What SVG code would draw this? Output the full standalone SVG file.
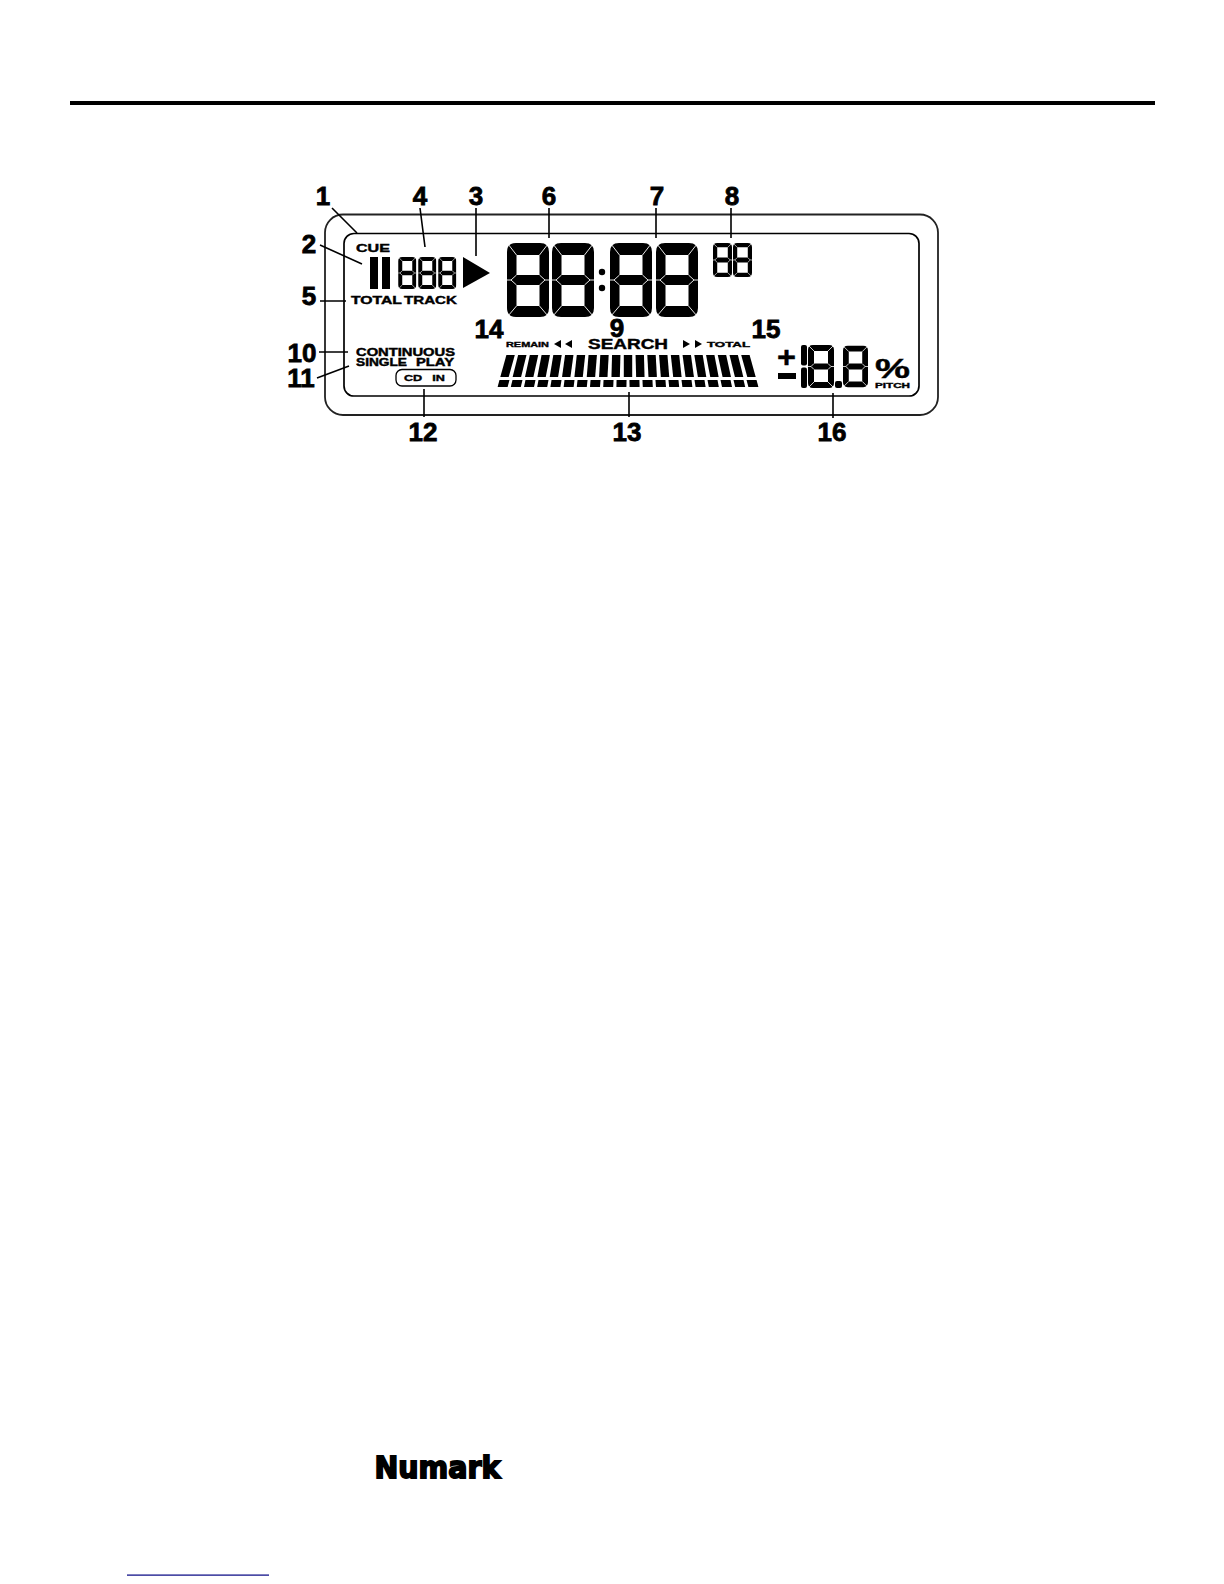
<svg xmlns="http://www.w3.org/2000/svg" width="1224" height="1584" viewBox="0 0 1224 1584">
<style>
.n{font:bold 26px "Liberation Sans",Arial,sans-serif;fill:#000;stroke:#000;stroke-width:.8;text-anchor:middle}
.l{font-family:"Liberation Sans",Arial,sans-serif;font-weight:bold;fill:#000;stroke:#000;stroke-width:.4}
.c{stroke:#000;stroke-width:1.6;fill:none}
</style>
<defs>
<symbol id="big" viewBox="0 0 42 74">
<path fill="#000" fill-rule="evenodd" d="M9 0H33Q42 0 42 9V65Q42 74 33 74H9Q0 74 0 65V9Q0 0 9 0ZM9.500 12V32H32.500V12ZM9.500 42V63H32.500V42Z"/>
<path stroke="#fff" stroke-width=".9" fill="none" d="M1 1L9.500 12M41 1L32.500 12M1 73L9.500 63M41 73L32.500 63M0 37L4 37L9.500 32M4 37L9.500 42M42 37L38 37L32.500 32M38 37L32.500 42"/>
</symbol>
<symbol id="small" viewBox="0 0 18 32">
<path fill="#000" fill-rule="evenodd" d="M4 0H14Q18 0 18 4V28Q18 32 14 32H4Q0 32 0 28V4Q0 0 4 0ZM4 4V13.700H14V4ZM4 18.300V28H14V18.300Z"/>
<path stroke="#fff" stroke-width=".6" fill="none" d="M.8 .8L4 4M17.200 .8L14 4M.8 31.200L4 28M17.200 31.200L14 28M0 16H1.700L4 13.700M1.700 16L4 18.300M18 16H16.300L14 13.700M16.300 16L14 18.300"/>
</symbol>
<symbol id="mid" viewBox="0 0 26 43">
<path fill="#000" fill-rule="evenodd" d="M5 0H21Q26 0 26 5V38Q26 43 21 43H5Q0 43 0 38V5Q0 0 5 0ZM6 6V18.500H20V6ZM6 24.500V37H20V24.500Z"/>
<path stroke="#fff" stroke-width=".8" fill="none" d="M.5 .5L6 6M25.500 .5L20 6M.5 42.500L6 37M25.500 42.500L20 37M0 21.500H3L6 18.500M3 21.500L6 24.500M26 21.500H23L20 18.500M23 21.500L20 24.500"/>
</symbol>
<rect id="bar" x="-4.200" y="-22" width="8.400" height="22" fill="#000"/>
<rect id="blk" x="-5" y="-7" width="10" height="7" fill="#000"/>
<polygon id="tl" points="0,4 7,0 7,8" fill="#000"/>
<polygon id="tr" points="0,0 7,4 0,8" fill="#000"/>
</defs>

<rect id="top-rule" x="70" y="101" width="1085" height="4" fill="#000"/>

<g id="lcd-frame" fill="none">
<rect x="325" y="214.500" width="613" height="200.500" rx="18" stroke="#222" stroke-width="1.800"/>
<rect x="344" y="233.500" width="575" height="162.500" rx="10" stroke="#000" stroke-width="1.700"/>
</g>

<g id="connectors">
<path class="c" d="M332 208L357 233M420 208L425 247M476 208V256M549 208V238M656 208V238M731 208V238M320 245L362 264M320 301H346M319 352H348M317 378L349 366M424 389V417M629 392V417M833 393V418"/>
</g>

<g id="cue"><text class="l" x="356" y="252" font-size="11" textLength="34" lengthAdjust="spacingAndGlyphs">CUE</text></g>
<g id="pause"><rect x="370" y="257" width="8" height="32"/><rect x="382" y="257" width="8" height="32"/></g>
<g id="track-number">
<use href="#small" x="398" y="257" width="18.500" height="32"/>
<use href="#small" x="418" y="257" width="18.500" height="32"/>
<use href="#small" x="438" y="257" width="18.500" height="32"/>
</g>
<g id="play"><polygon points="463,257 490,273 463,288" fill="#000"/></g>
<g id="total-track">
<text class="l" x="351" y="304" font-size="11" textLength="51" lengthAdjust="spacingAndGlyphs">TOTAL</text>
<text class="l" x="404" y="304" font-size="11" textLength="53" lengthAdjust="spacingAndGlyphs">TRACK</text>
</g>
<g id="time-display">
<use href="#big" x="507" y="243" width="42" height="74"/>
<use href="#big" x="552" y="243" width="42" height="74"/>
<circle cx="602" cy="272" r="3.200"/><circle cx="602" cy="288" r="3.200"/>
<use href="#big" x="610" y="243" width="42" height="74"/>
<use href="#big" x="656" y="243" width="42" height="74"/>
</g>
<g id="frames">
<use href="#small" x="713" y="243" width="19" height="34"/>
<use href="#small" x="733" y="243" width="19" height="34"/>
</g>
<g id="remain">
<text class="l" x="506" y="347" font-size="8" textLength="43" lengthAdjust="spacingAndGlyphs">REMAIN</text>
<use href="#tl" x="554" y="340"/><use href="#tl" x="565" y="340"/>
</g>
<g id="search"><text class="l" x="588" y="349" font-size="14" stroke-width=".6" textLength="80" lengthAdjust="spacingAndGlyphs">SEARCH</text></g>
<g id="total">
<use href="#tr" x="683" y="340"/><use href="#tr" x="695" y="340"/>
<text class="l" x="707" y="347" font-size="8" textLength="43" lengthAdjust="spacingAndGlyphs">TOTAL</text>
</g>
<g id="play-mode">
<text class="l" x="356" y="356" font-size="10" textLength="99" lengthAdjust="spacingAndGlyphs">CONTINUOUS</text>
<text class="l" x="356" y="366" font-size="10" textLength="51" lengthAdjust="spacingAndGlyphs">SINGLE</text>
<text class="l" x="416" y="366" font-size="10" textLength="38" lengthAdjust="spacingAndGlyphs">PLAY</text>
</g>
<g id="cd-in">
<rect x="396" y="369.500" width="60" height="16.500" rx="6" fill="none" stroke="#000" stroke-width="1.300"/>
<text class="l" x="404" y="381" font-size="9.500" word-spacing="5" textLength="41" lengthAdjust="spacingAndGlyphs">CD IN</text>
</g>
<g id="level-bars">
<use href="#bar" transform="translate(504.500,377) skewX(-15.500)"/>
<use href="#bar" transform="translate(516.850,377) skewX(-13.950)"/>
<use href="#bar" transform="translate(529.200,377) skewX(-12.400)"/>
<use href="#bar" transform="translate(541.550,377) skewX(-10.850)"/>
<use href="#bar" transform="translate(553.900,377) skewX(-9.300)"/>
<use href="#bar" transform="translate(566.250,377) skewX(-7.750)"/>
<use href="#bar" transform="translate(578.600,377) skewX(-6.200)"/>
<use href="#bar" transform="translate(590.950,377) skewX(-4.650)"/>
<use href="#bar" transform="translate(603.300,377) skewX(-3.100)"/>
<use href="#bar" transform="translate(615.650,377) skewX(-1.550)"/>
<use href="#bar" transform="translate(628,377)"/>
<use href="#bar" transform="translate(640.350,377) skewX(1.550)"/>
<use href="#bar" transform="translate(652.700,377) skewX(3.100)"/>
<use href="#bar" transform="translate(665.050,377) skewX(4.650)"/>
<use href="#bar" transform="translate(677.400,377) skewX(6.200)"/>
<use href="#bar" transform="translate(689.750,377) skewX(7.750)"/>
<use href="#bar" transform="translate(702.100,377) skewX(9.300)"/>
<use href="#bar" transform="translate(714.450,377) skewX(10.850)"/>
<use href="#bar" transform="translate(726.800,377) skewX(12.400)"/>
<use href="#bar" transform="translate(739.150,377) skewX(13.950)"/>
<use href="#bar" transform="translate(751.500,377) skewX(15.500)"/>
<use href="#blk" transform="translate(502.600,387) skewX(-15)"/>
<use href="#blk" transform="translate(515.800,387) skewX(-13.500)"/>
<use href="#blk" transform="translate(529,387) skewX(-12)"/>
<use href="#blk" transform="translate(542.200,387) skewX(-10.500)"/>
<use href="#blk" transform="translate(555.400,387) skewX(-9)"/>
<use href="#blk" transform="translate(568.600,387) skewX(-7.500)"/>
<use href="#blk" transform="translate(581.800,387) skewX(-6)"/>
<use href="#blk" transform="translate(595,387) skewX(-4.500)"/>
<use href="#blk" transform="translate(608.200,387) skewX(-3)"/>
<use href="#blk" transform="translate(621.400,387) skewX(-1.500)"/>
<use href="#blk" transform="translate(634.600,387) skewX(1.500)"/>
<use href="#blk" transform="translate(647.800,387) skewX(3)"/>
<use href="#blk" transform="translate(661,387) skewX(4.500)"/>
<use href="#blk" transform="translate(674.200,387) skewX(6)"/>
<use href="#blk" transform="translate(687.400,387) skewX(7.500)"/>
<use href="#blk" transform="translate(700.600,387) skewX(9)"/>
<use href="#blk" transform="translate(713.800,387) skewX(10.500)"/>
<use href="#blk" transform="translate(727,387) skewX(12)"/>
<use href="#blk" transform="translate(740.200,387) skewX(13.500)"/>
<use href="#blk" transform="translate(753.400,387) skewX(15)"/>
</g>
<g id="pitch">
<text class="l" x="777" y="367" font-size="30" textLength="19" lengthAdjust="spacingAndGlyphs">+</text>
<rect x="778" y="373" width="18" height="6"/>
<rect x="801" y="345" width="6" height="20.500" rx="2"/>
<rect x="801" y="367.500" width="6" height="20.500" rx="2"/>
<use href="#mid" x="808" y="345" width="26" height="43"/>
<rect x="835" y="381" width="7" height="7" rx="2"/>
<use href="#mid" x="843" y="345" width="25" height="43"/>
<text class="l" x="875" y="378" font-size="27" stroke-width=".2" textLength="35" lengthAdjust="spacingAndGlyphs">%</text>
<text class="l" x="875" y="388" font-size="8" textLength="35" lengthAdjust="spacingAndGlyphs">PITCH</text>
</g>

<g id="callouts">
<text class="n" x="323" y="205">1</text>
<text class="n" x="420" y="205">4</text>
<text class="n" x="476" y="205">3</text>
<text class="n" x="549" y="205">6</text>
<text class="n" x="657" y="205">7</text>
<text class="n" x="732" y="205">8</text>
<text class="n" x="309" y="253">2</text>
<text class="n" x="309" y="305">5</text>
<text class="n" x="489" y="338">14</text>
<text class="n" x="617" y="337">9</text>
<text class="n" x="766" y="338">15</text>
<text class="n" x="302" y="362">10</text>
<text class="n" x="301" y="387">11</text>
<text class="n" x="423" y="441">12</text>
<text class="n" x="627" y="441">13</text>
<text class="n" x="832" y="441">16</text>
</g>

<g id="logo"><text x="374.500" y="1478" font-family="'DejaVu Sans',sans-serif" font-weight="bold" font-size="30" stroke="#000" stroke-width="1.800" textLength="126" lengthAdjust="spacingAndGlyphs">Numark</text></g>
<rect id="footer-link" x="127" y="1574.500" width="142" height="1.200" fill="#000080"/>
</svg>
